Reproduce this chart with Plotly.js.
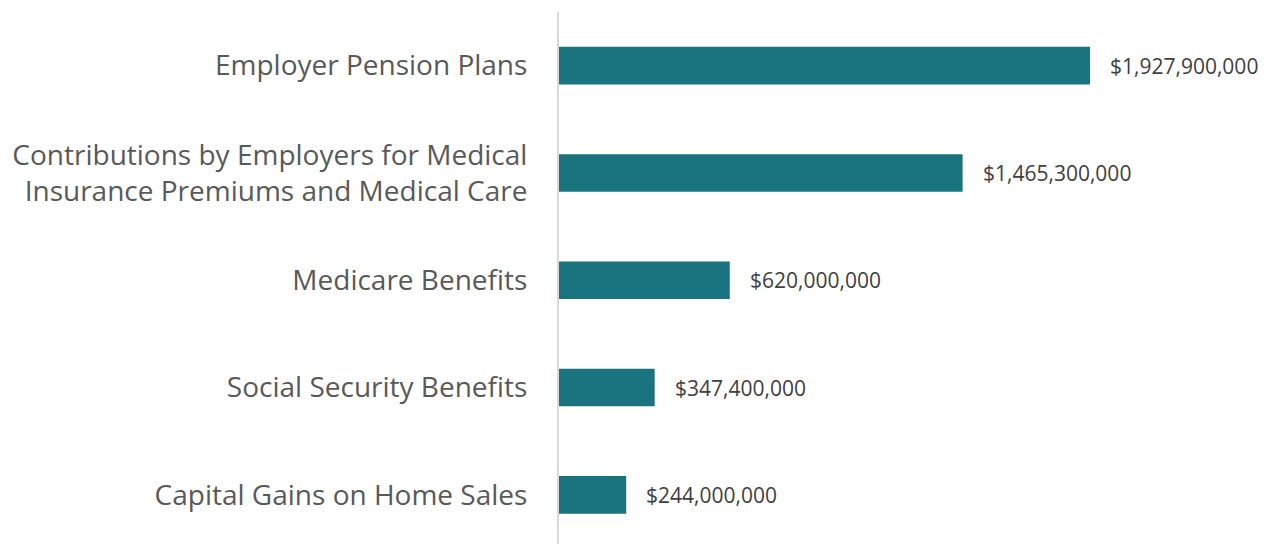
<!DOCTYPE html>
<html>
<head>
<meta charset="utf-8">
<script src="https://cdn.plot.ly/plotly-3.0.1.min.js"></script>
<style>
  html, body { margin: 0; padding: 0; background: #fff; }
  #chart { width: 1276px; height: 544px; }
</style>
</head>
<body>
<div id="chart"></div>
<script>
// Tax expenditure categories, top to bottom
var categories = [
  'Employer Pension Plans',
  'Contributions by Employers for Medical<br>Insurance Premiums and Medical Care',
  'Medicare Benefits',
  'Social Security Benefits',
  'Capital Gains on Home Sales'
];
var amounts = [1927900000, 1465300000, 620000000, 347400000, 244000000];
var amountLabels = ['$1,927,900,000', '$1,465,300,000', '$620,000,000', '$347,400,000', '$244,000,000'];

var labelNotes = amounts.map(function (v, i) {
  return {
    x: v, y: categories[i], text: amountLabels[i],
    xanchor: 'left', yanchor: 'middle', xshift: 18,
    showarrow: false,
    font: { family: 'Open Sans, sans-serif', size: 21, color: '#404040' }
  };
});

Plotly.newPlot('chart', [{
  type: 'bar',
  orientation: 'h',
  x: amounts,
  y: categories,
  width: 0.35,
  marker: { color: '#1a7480' },
  hoverinfo: 'skip'
}], {
  width: 1276,
  height: 544,
  margin: { l: 559, r: 0, t: 12, b: 0 },
  paper_bgcolor: '#fff',
  plot_bgcolor: '#fff',
  showlegend: false,
  xaxis: {
    range: [0, 2.603e9],
    showgrid: false, zeroline: false, showticklabels: false, showline: false
  },
  yaxis: {
    type: 'category',
    range: [4.458, -0.5],
    showgrid: false, zeroline: false,
    showline: true, linecolor: '#d9d9d9', linewidth: 2,
    ticks: '', ticklabelstandoff: 24,
    tickfont: { family: 'Open Sans, sans-serif', size: 28, color: '#595959' }
  },
  annotations: labelNotes
}, { displayModeBar: false, staticPlot: true });
</script>
</body>
</html>
